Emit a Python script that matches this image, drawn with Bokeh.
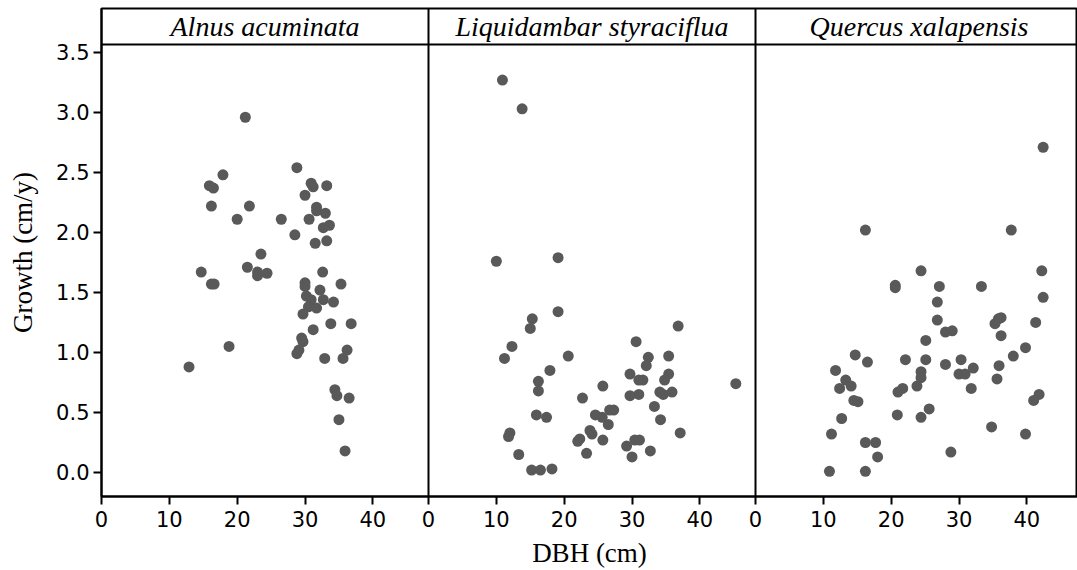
from bokeh.plotting import figure
from bokeh.models import (Range1d, FixedTicker, Span, Label,
                          CustomJSTickFormatter, NumeralTickFormatter)
from bokeh.embed import file_html
from bokeh.resources import INLINE

# ---------------- data ----------------
species = ["Alnus acuminata", "Liquidambar styraciflua", "Quercus xalapensis"]

alnus_dbh = [21.2, 28.8, 17.9, 15.9, 16.5, 30.9, 31.2, 33.2, 30.0, 16.2,
             21.8, 31.7, 31.7, 33.0, 20.0, 26.5, 30.6, 32.7, 33.6, 28.5,
             31.5, 33.2, 23.5, 14.7, 21.5, 23.0, 23.0, 24.4, 32.6, 16.2,
             16.6, 30.0, 30.0, 35.3, 32.2, 30.2, 30.9, 32.7, 34.2, 30.5,
             31.7, 29.7, 33.8, 36.8, 31.2, 29.5, 29.7, 18.8, 29.1, 28.8,
             36.2, 32.9, 35.6, 12.9, 34.4, 34.7, 36.5, 35.0, 35.9]
alnus_growth = [2.96, 2.54, 2.48, 2.39, 2.37, 2.41, 2.38, 2.39, 2.31, 2.22,
                2.22, 2.21, 2.18, 2.16, 2.11, 2.11, 2.11, 2.04, 2.06, 1.98,
                1.91, 1.93, 1.82, 1.67, 1.71, 1.67, 1.64, 1.66, 1.67, 1.57,
                1.57, 1.58, 1.55, 1.57, 1.52, 1.47, 1.44, 1.44, 1.42, 1.38,
                1.37, 1.32, 1.24, 1.24, 1.19, 1.12, 1.09, 1.05, 1.02, 0.99,
                1.02, 0.95, 0.95, 0.88, 0.69, 0.64, 0.62, 0.44, 0.18]

liquid_dbh = [10.9, 13.8, 10.0, 19.1, 19.1, 15.3, 15.0, 12.3, 11.2, 20.6,
              17.9, 16.2, 16.2, 25.7, 22.7, 15.9, 17.4, 24.6, 25.6, 26.7,
              27.3, 26.5, 12.0, 11.8, 23.8, 24.1, 22.3, 22.0, 25.7, 13.3,
              23.3, 15.2, 16.5, 18.2, 36.8, 30.6, 32.4, 32.1, 35.4, 29.7,
              31.0, 31.6, 35.4, 34.8, 29.7, 31.0, 34.1, 34.6, 35.9, 33.3,
              34.2, 37.1, 30.4, 31.1, 29.2, 32.7, 30.0, 45.3]
liquid_growth = [3.27, 3.03, 1.76, 1.79, 1.34, 1.28, 1.20, 1.05, 0.95, 0.97,
                 0.85, 0.76, 0.68, 0.72, 0.62, 0.48, 0.46, 0.48, 0.46, 0.52,
                 0.52, 0.40, 0.33, 0.30, 0.35, 0.32, 0.28, 0.26, 0.27, 0.15,
                 0.16, 0.02, 0.02, 0.03, 1.22, 1.09, 0.96, 0.89, 0.97, 0.82,
                 0.77, 0.77, 0.82, 0.77, 0.64, 0.65, 0.67, 0.65, 0.67, 0.55,
                 0.44, 0.33, 0.27, 0.27, 0.22, 0.18, 0.13, 0.74]

quercus_dbh = [42.4, 16.2, 37.7, 24.4, 42.2, 20.6, 20.6, 27.1, 33.3, 42.4,
               26.8, 26.8, 35.8, 36.2, 35.3, 41.3, 28.0, 29.0, 25.1, 36.2,
               39.8, 14.7, 38.0, 16.5, 22.1, 25.1, 30.3, 28.0, 35.9, 32.1,
               11.8, 24.4, 30.0, 30.9, 24.4, 35.6, 13.3, 14.1, 23.8, 12.4,
               21.7, 31.8, 21.0, 41.8, 41.0, 14.5, 15.1, 25.6, 20.9, 24.4,
               12.7, 34.8, 11.2, 39.8, 16.2, 17.7, 28.8, 18.0, 10.9, 16.2]
quercus_growth = [2.71, 2.02, 2.02, 1.68, 1.68, 1.54, 1.56, 1.55, 1.55, 1.46,
                  1.42, 1.27, 1.28, 1.29, 1.24, 1.25, 1.17, 1.18, 1.10, 1.14,
                  1.04, 0.98, 0.97, 0.92, 0.94, 0.94, 0.94, 0.90, 0.89, 0.87,
                  0.85, 0.84, 0.82, 0.82, 0.79, 0.78, 0.77, 0.72, 0.72, 0.70,
                  0.70, 0.70, 0.67, 0.65, 0.60, 0.60, 0.59, 0.53, 0.48, 0.46,
                  0.45, 0.38, 0.32, 0.32, 0.25, 0.25, 0.17, 0.13, 0.01, 0.01]

panels = [(alnus_dbh, alnus_growth),
          (liquid_dbh, liquid_growth),
          (quercus_dbh, quercus_growth)]

x_ticks = [0, 10, 20, 30, 40]
y_ticks = [0.0, 0.5, 1.0, 1.5, 2.0, 2.5, 3.0, 3.5]

# ---------------- layout constants ----------------
XMAX = 48.2           # x extent of one panel (cm)
YMIN, YTOP = -0.2, 3.866
STRIP_LO = 3.567      # lower edge of the title strip
FIG_W, FIG_H = 1077, 570
FRAME_LEFT = 101
PANEL_W = 327
TOTAL = XMAX * (FIG_W - FRAME_LEFT) / PANEL_W

SERIF = "Liberation Serif"
SANS = "DejaVu Sans"
DOT = "#595959"

p = figure(width=FIG_W, height=FIG_H,
           x_range=Range1d(0, TOTAL), y_range=Range1d(YMIN, YTOP),
           output_backend="svg", toolbar_location=None,
           min_border_left=FRAME_LEFT, min_border_right=0,
           min_border_top=8, min_border_bottom=0)

p.extra_x_ranges = {f"p{k}": Range1d(-k * XMAX, TOTAL - k * XMAX) for k in range(3)}

p.xgrid.visible = False
p.ygrid.visible = False
p.outline_line_color = "black"
p.outline_line_width = 2
p.outline_line_alpha = 1.0
p.background_fill_color = "white"
p.border_fill_color = "white"

for k, (xs, ys) in enumerate(panels):
    p.scatter(xs, ys, x_range_name=f"p{k}", size=11,
              fill_color=DOT, line_color=None)
    p.add_layout(Label(x=XMAX / 2, y=(STRIP_LO + YTOP) / 2, x_range_name=f"p{k}",
                       text=species[k], text_align="center", text_baseline="middle",
                       text_font=SERIF, text_font_style="italic",
                       text_font_size="28px", text_color="black"))
    if k < 2:
        p.add_layout(Span(location=XMAX, dimension="height", x_range_name=f"p{k}",
                          line_color="black", line_width=2))

p.add_layout(Span(location=STRIP_LO, dimension="width",
                  line_color="black", line_width=2))

# x axis: ticks repeated for each panel
xa = p.xaxis[0]
xa.ticker = FixedTicker(ticks=[k * XMAX + t for k in range(3) for t in x_ticks])
xa.formatter = CustomJSTickFormatter(args=dict(w=XMAX),
                                     code="return String(Math.round(((tick % w) + w) % w));")
ya = p.yaxis[0]
ya.ticker = FixedTicker(ticks=y_ticks)
ya.formatter = NumeralTickFormatter(format="0.0")

for ax in (xa, ya):
    ax.axis_line_color = "black"
    ax.axis_line_width = 2
    ax.major_tick_line_color = "black"
    ax.major_tick_line_width = 2
    ax.major_tick_in = 0
    ax.major_tick_out = 8
    ax.minor_tick_line_color = None
    ax.major_label_text_font = SANS
    ax.major_label_text_font_size = "21px"
    ax.major_label_text_color = "black"
    ax.axis_label_text_font = SERIF
    ax.axis_label_text_font_style = "normal"
    ax.axis_label_text_font_size = "27px"
    ax.axis_label_text_color = "black"

xa.axis_label = "DBH (cm)"
xa.major_label_standoff = 6
xa.axis_label_standoff = 8
ya.axis_label = "Growth (cm/y)"
ya.major_label_standoff = 4
ya.axis_label_standoff = 15

open("out.html", "w").write(file_html(p, INLINE))
